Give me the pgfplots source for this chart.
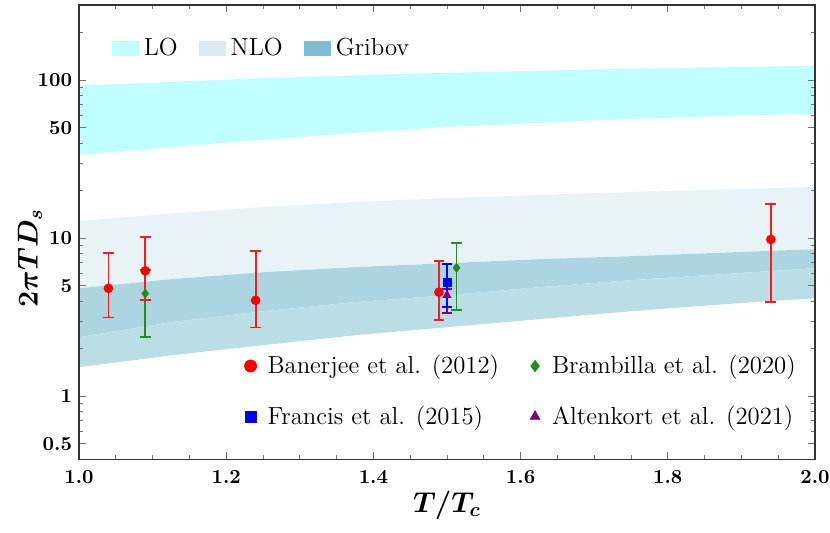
\documentclass[border=0pt]{standalone}
\usepackage{pgfplots}
\usepackage{pgfplotstable}
\pgfplotsset{compat=1.18}
\definecolor{locol}{RGB}{192,255,255}
\definecolor{nlocol}{RGB}{231,243,247}
\definecolor{ovcol}{RGB}{173,213,225}
\definecolor{grcol}{RGB}{187,221,230}
\definecolor{nloleg}{RGB}{216,235,241}
\definecolor{grleg}{RGB}{126,190,213}
\definecolor{bgreen}{RGB}{34,139,34}
\definecolor{bpurple}{RGB}{128,0,128}

\pgfplotstableread{
T     y     ep    em
1.04  4.83  3.27  1.67
1.09  6.23  3.97  2.15
1.24  4.06  4.25  1.33
1.489 4.57  2.64  1.52
1.94  9.85  6.65  5.91
}\banerjee

\pgfplotstableread{
T     y     ep    em
1.09  4.48  1.82  2.09
1.513 6.51  2.87  3.00
}\brambilla

\pgfplotstableread{
T     y     ep    em
1.50  5.28  1.62  1.60
}\francis

\pgfplotstableread{
T     y     ep    em
1.50  4.37  0.40  1.00
}\altenkort

\begin{document}
\begin{tikzpicture}
\path[use as bounding box] (-39.5bp,-36.5bp) rectangle (375.5bp,229.65bp);
\begin{axis}[
  scale only axis, width=368bp, height=227.15bp,
  at={(0,0)}, anchor=south west,
  xmin=1, xmax=2, ymode=log, ymin=0.4, ymax=300,
  axis line style={black!80, line width=0.6bp},
  tick align=inside,
  major tick length=3.5bp, minor tick length=2bp,
  tick style={black!55, line width=0.5bp},
  xtick={1,1.2,1.4,1.6,1.8,2}, xticklabels={1.0,1.2,1.4,1.6,1.8,2.0},
  minor xtick={1.05,1.1,1.15,1.25,1.3,1.35,1.45,1.5,1.55,1.65,1.7,1.75,1.85,1.9,1.95},
  ytick={0.5,1,5,10,50,100}, yticklabels={0.5,1,5,10,50,100},
  minor ytick={0.6,0.7,0.8,0.9,2,3,4,6,7,8,9,20,30,40,60,70,80,90,200},
  tick label style={font=\fontsize{10}{11}\selectfont\bfseries},
  xticklabel style={yshift=-2bp},
  axis on top,
  legend columns=3,
  legend cell align=left,
  legend style={draw=none, fill=none, inner sep=0pt,
    at={(axis description cs:0.044,0.905)}, anchor=west,
    font=\fontsize{12.4}{14}\selectfont,
    /tikz/every even column/.append style={column sep=8bp},
    nodes={inner sep=2.5bp}},
]
% LO band
\addplot[fill=locol, draw=none, forget plot] coordinates {
 (1.000,92.4) (1.125,98.0) (1.250,103.1) (1.375,107.7) (1.500,111.7)
 (1.625,115.1) (1.750,118.5) (1.875,121.1) (2.000,123.8)
 (2.000,61.4) (1.875,59.7) (1.750,57.1) (1.625,53.8) (1.500,50.8)
 (1.375,46.5) (1.250,42.0) (1.125,37.9) (1.000,33.75)} -- cycle;
% NLO only (NLO top -> Gribov top)
\addplot[fill=nlocol, draw=none, forget plot] coordinates {
 (1.000,12.88) (1.125,14.37) (1.250,15.79) (1.375,16.99) (1.500,18.01)
 (1.625,18.82) (1.750,19.66) (1.875,20.39) (2.000,21.15)
 (2.000,8.55) (1.875,8.13) (1.750,7.72) (1.625,7.39) (1.500,6.97)
 (1.375,6.58) (1.250,6.11) (1.125,5.52) (1.000,4.84)} -- cycle;
% overlap (Gribov top -> NLO bottom)
\addplot[fill=ovcol, draw=none, forget plot] coordinates {
 (1.000,4.84) (1.125,5.52) (1.250,6.11) (1.375,6.58) (1.500,6.97)
 (1.625,7.39) (1.750,7.72) (1.875,8.13) (2.000,8.55)
 (2.000,6.48) (1.875,5.94) (1.750,5.44) (1.625,4.91) (1.500,4.37)
 (1.375,3.95) (1.250,3.46) (1.125,2.95) (1.000,2.37)} -- cycle;
% Gribov only (NLO bottom -> Gribov bottom)
\addplot[fill=grcol, draw=none, forget plot] coordinates {
 (1.000,2.37) (1.125,2.95) (1.250,3.46) (1.375,3.95) (1.500,4.37)
 (1.625,4.91) (1.750,5.44) (1.875,5.94) (2.000,6.48)
 (2.000,4.18) (1.875,3.83) (1.750,3.46) (1.625,3.08) (1.500,2.74)
 (1.375,2.44) (1.250,2.11) (1.125,1.82) (1.000,1.53)} -- cycle;
\addlegendimage{area legend, fill=locol, draw=none,
  legend image code/.code={\fill[locol] (0bp,-3.75bp) rectangle (13.5bp,3.75bp);}}
\addlegendentry{LO}
\addlegendimage{area legend, fill=nloleg, draw=none,
  legend image code/.code={\fill[nloleg] (0bp,-3.75bp) rectangle (13.5bp,3.75bp);}}
\addlegendentry{NLO}
\addlegendimage{area legend, fill=grleg, draw=none,
  legend image code/.code={\fill[grleg] (0bp,-3.75bp) rectangle (13.5bp,3.75bp);}}
\addlegendentry{Gribov}
\end{axis}

\begin{axis}[
  scale only axis, width=368bp, height=227.15bp,
  at={(0,0)}, anchor=south west,
  xmin=1, xmax=2, ymode=log, ymin=0.4, ymax=300,
  hide axis,
  legend columns=2,
  legend cell align=left,
  legend style={draw=none, fill=none, inner sep=0pt,
    at={(axis description cs:0.2217,0.1497)}, anchor=west,
    font=\fontsize{12.4}{14}\selectfont,
    row sep=9.5bp,
    /tikz/every even column/.append style={column sep=11.5bp},
    nodes={inner sep=2.5bp}},
  legend image code/.code={\path[draw=none, fill=none] (0bp,-4bp) rectangle (10bp,4bp);
    \draw[#1] plot coordinates {(4bp,0bp)};},
]
\addplot[only marks, mark=diamond*, bgreen, mark size=2.2bp, forget plot,
  error bars/.cd, y dir=both, y explicit,
  error bar style={bgreen, line width=0.9bp},
  error mark options={rotate=90, bgreen, mark size=2.7bp, line width=0.9bp}]
  table[x=T, y=y, y error plus=ep, y error minus=em]{\brambilla};
\addplot[only marks, mark=triangle*, bpurple, mark size=2.2bp, forget plot,
  error bars/.cd, y dir=both, y explicit,
  error bar style={bpurple, line width=0.9bp},
  error mark options={rotate=90, bpurple, mark size=2.7bp, line width=0.9bp}]
  table[x=T, y=y, y error plus=ep, y error minus=em]{\altenkort};
\addplot[only marks, mark=square*, blue, mark size=2bp, forget plot,
  error bars/.cd, y dir=both, y explicit,
  error bar style={blue, line width=0.9bp},
  error mark options={rotate=90, blue, mark size=2.7bp, line width=0.9bp}]
  table[x=T, y=y, y error plus=ep, y error minus=em]{\francis};
\addplot[only marks, mark=*, red, mark size=2.2bp, forget plot,
  error bars/.cd, y dir=both, y explicit,
  error bar style={red!90, line width=0.9bp},
  error mark options={rotate=90, red!90, mark size=2.7bp, line width=0.9bp}]
  table[x=T, y=y, y error plus=ep, y error minus=em]{\banerjee};
\addlegendimage{only marks, mark=*, red, mark size=3bp}
\addlegendentry{Banerjee et al. (2012)}
\addlegendimage{only marks, mark=diamond*, bgreen, mark size=2.8bp}
\addlegendentry{Brambilla et al. (2020)}
\addlegendimage{only marks, mark=square*, blue, mark size=2.8bp}
\addlegendentry{Francis et al. (2015)}
\addlegendimage{only marks, mark=triangle*, bpurple, mark size=2.8bp}
\addlegendentry{Altenkort et al. (2021)}
\end{axis}

\node[rotate=90, font=\fontsize{14}{16}\selectfont\boldmath] at (-24.5bp,100.5bp) {$2\pi T D_s$};
\node[font=\fontsize{14}{16}\selectfont\boldmath] at (184bp,-23bp) {$T/T_c$};
\end{tikzpicture}
\end{document}
